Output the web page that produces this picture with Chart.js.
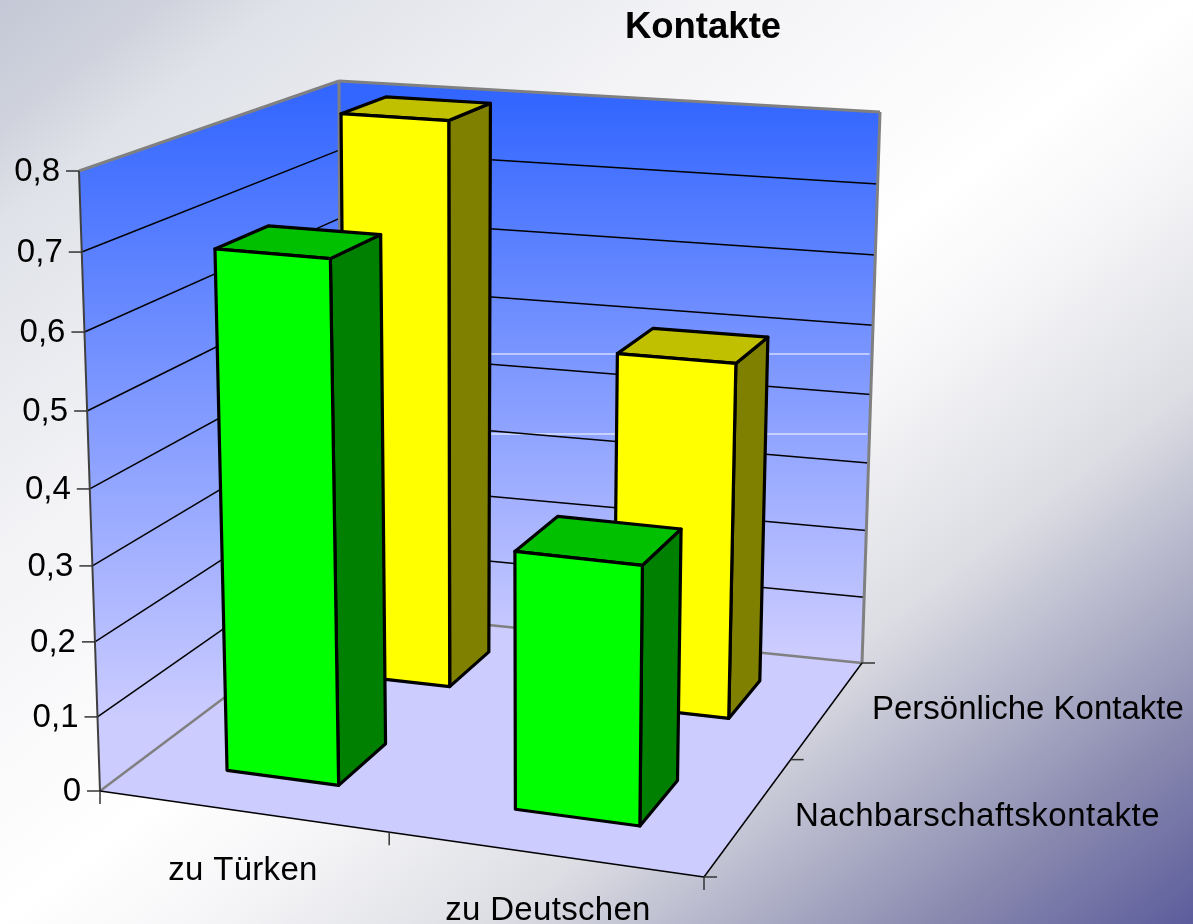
<!DOCTYPE html>
<html><head><meta charset="utf-8">
<style>html,body{margin:0;padding:0;width:1193px;height:924px;overflow:hidden}
body{background:linear-gradient(to bottom right,#c4c8d6 0%,#d0d3dd 7%,#dfe2e8 12%,#f3f3f6 30%,#ffffff 50%,#f6f6f8 58%,#dcdde3 71%,#8a8ab0 89%,#5c5c9c 100%)}
canvas{display:block}</style>
<script src="https://cdn.jsdelivr.net/npm/chart.js@4"></script>
</head><body><canvas id="c" width="1193" height="924"></canvas>
<script>
const categories=['zu Türken','zu Deutschen'];
const seriesNames=['Persönliche Kontakte','Nachbarschaftskontakte'];
const yellowValues=[0.80,0.50];
const greenValues=[0.69,0.34];
const titleText='Kontakte';
const floorCorners=[[100,791],[704,877],[862,663],[341,610]];
const ceilCorners=[[79,171],[714,222],[880,112],[339,81]];
const heightCurve=0.95;
const worldShift=[0.007,0.003];
function homog([A,B,C,D]){
 const dx1=B[0]-C[0],dx2=D[0]-C[0],sx=A[0]-B[0]+C[0]-D[0],dy1=B[1]-C[1],dy2=D[1]-C[1],sy=A[1]-B[1]+C[1]-D[1];
 const det=dx1*dy2-dx2*dy1,g=(sx*dy2-dx2*sy)/det,h=(dx1*sy-sx*dy1)/det;
 return [[B[0]-A[0]+g*B[0],D[0]-A[0]+h*D[0],A[0]],[B[1]-A[1]+g*B[1],D[1]-A[1]+h*D[1],A[1]],[g,h,1]];}
const HF=homog(floorCorners),HC=homog(ceilCorners);
function ap(H,x,y){const W=H[2][0]*x+H[2][1]*y+1;return [(H[0][0]*x+H[0][1]*y+H[0][2])/W,(H[1][0]*x+H[1][1]*y+H[1][2])/W];}
function proj(x,y,z){const a=ap(HF,x,y),b=ap(HC,x,y),k=heightCurve,s=k*z/(1+(k-1)*z);return [a[0]+(b[0]-a[0])*s,a[1]+(b[1]-a[1])*s];}
function poly(ctx,pts,fill,stroke,lw){ctx.beginPath();pts.forEach((p,i)=>i?ctx.lineTo(p[0],p[1]):ctx.moveTo(p[0],p[1]));ctx.closePath();
 if(fill){ctx.fillStyle=fill;ctx.fill();}if(stroke){ctx.strokeStyle=stroke;ctx.lineWidth=lw;ctx.lineJoin='round';ctx.stroke();}}
function seg(ctx,a,b,c,lw){ctx.beginPath();ctx.moveTo(a[0],a[1]);ctx.lineTo(b[0],b[1]);ctx.strokeStyle=c;ctx.lineWidth=lw;ctx.stroke();}
const faceColors=[{front:'#ffff00',top:'#c0c000',side:'#808000'},{front:'#00ff00',top:'#00c000',side:'#008000'}];
const plugin3d={id:'plugin3d',beforeDatasetsDraw(chart){
 const ctx=chart.ctx,xs=chart.scales.x,ys=chart.scales.y;
 const zOf=v=>(ys.bottom-ys.getPixelForValue(v))/(ys.bottom-ys.top);
 const [A,B,C,D]=floorCorners,[E,,G,F]=ceilCorners;
 ctx.save();
 poly(ctx,[A,B,C,D],'#ccccff');
 let g=ctx.createLinearGradient(0,90,0,720);g.addColorStop(0,'#3366ff');g.addColorStop(1,'#ccccff');
 poly(ctx,[A,D,F,E],g);
 g=ctx.createLinearGradient(0,100,0,650);g.addColorStop(0,'#3366ff');g.addColorStop(1,'#ccccff');
 poly(ctx,[D,C,G,F],g);
 [354,434].forEach(y=>seg(ctx,[341,y],[867+(434-y)*0.033,y],'#fff',1));
 ys.ticks.forEach(t=>{const z=zOf(t.value);if(z<=0||z>=1)return;
  seg(ctx,proj(0,0,z),proj(0,1,z),'#000',1.5);seg(ctx,proj(0,1,z),proj(1,1,z),'#000',1.5);});
 seg(ctx,A,D,'#808080',2.5);seg(ctx,D,C,'#808080',2.5);seg(ctx,C,G,'#808080',3);seg(ctx,G,F,'#808080',3);seg(ctx,F,E,'#808080',3);seg(ctx,F,D,'#808080',3);
 seg(ctx,E,A,'#404040',2);seg(ctx,A,B,'#000',1.5);seg(ctx,B,C,'#000',1.5);
 ctx.fillStyle='#000';ctx.textBaseline='middle';
 ctx.font='33px "Liberation Sans"';ctx.textAlign='right';
 ys.ticks.forEach(t=>{const p=proj(0,0,zOf(t.value));seg(ctx,p,[p[0]-13,p[1]],'#333',1.5);ctx.fillStyle='#000';ctx.fillText(t.label,p[0]-19,p[1]+1);});
 const lab=[[243,871],[548,911]];
 ctx.letterSpacing='0.3px';
 xs.ticks.forEach((t,i)=>{ctx.textAlign='center';ctx.fillStyle='#000';ctx.fillText(t.label,lab[i][0],lab[i][1]);});
 ctx.letterSpacing='0px';
 [0,.5+worldShift[0],1].forEach(x=>{const p=proj(x,0,0);seg(ctx,p,[p[0],p[1]+13],'#333',1.5);});
 [0,.5,1].forEach(y=>{const p=proj(1,y,0);seg(ctx,p,[p[0]+13,p[1]],'#333',1.5);});
 ctx.textAlign='left';ctx.fillStyle='#000';
 ctx.fillText(seriesNames[0],872,710);
 ctx.letterSpacing='0.5px';ctx.fillText(seriesNames[1],795,817);ctx.letterSpacing='0px';
 ctx.font='bold 36.5px "Liberation Sans"';ctx.textAlign='center';ctx.fillText(titleText,703,28);
 chart.data.datasets.forEach((ds,di)=>{const meta=chart.getDatasetMeta(di);
  const c=faceColors[di],cy=1-(di+0.5)/2+worldShift[1],y0=cy-0.1,y1=cy+0.1;
  meta.data.forEach(el=>{const x0=xs.getDecimalForPixel(el.x-el.width/2)+worldShift[0],x1=xs.getDecimalForPixel(el.x+el.width/2)+worldShift[0];
   const z=(ys.bottom-el.y)/(ys.bottom-ys.top);
   poly(ctx,[proj(x1,y0,0),proj(x1,y1,0),proj(x1,y1,z),proj(x1,y0,z)],c.side,'#000',3.2);
   poly(ctx,[proj(x0,y0,z),proj(x1,y0,z),proj(x1,y1,z),proj(x0,y1,z)],c.top,'#000',3.2);
   poly(ctx,[proj(x0,y0,0),proj(x1,y0,0),proj(x1,y0,z),proj(x0,y0,z)],c.front,'#000',3.2);
  });});
 ctx.restore();
 return false;
}};
const barOpts={categoryPercentage:1,barPercentage:0.4};
new Chart(document.getElementById('c'),{type:'bar',
 data:{labels:categories,datasets:[
  {label:seriesNames[0],data:yellowValues,backgroundColor:'#ffff00',...barOpts},
  {label:seriesNames[1],data:greenValues,backgroundColor:'#00ff00',...barOpts}]},
 options:{responsive:false,animation:false,
  layout:{padding:{left:100,right:489,top:171,bottom:133}},
  plugins:{legend:{display:false},title:{display:false},tooltip:{enabled:false}},
  scales:{
   x:{display:false,stacked:true},
   y:{display:false,stacked:false,min:0,max:0.8,ticks:{stepSize:0.1,callback:v=>String(+v.toFixed(1)).replace('.',',')}}}},
 plugins:[plugin3d]});
</script></body></html>
